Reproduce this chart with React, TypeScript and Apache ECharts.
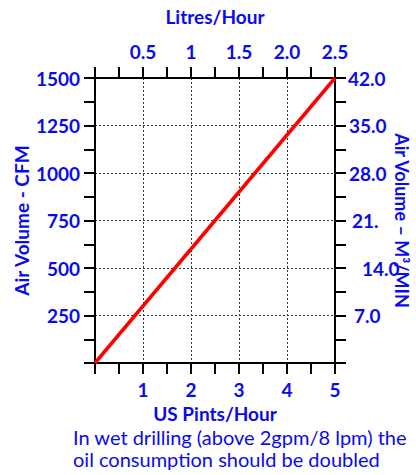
import React, { useEffect, useRef } from "react";
import * as echarts from "echarts";

const pintsPerHour = [0, 5];
const cfm = [0, 1500];
const bottomTicks = ["", "1", "2", "3", "4", "5"];
const topTicks = ["", "0.5", "1", "1.5", "2.0", "2.5"];
const leftTicks = ["", "250", "500", "750", "1000", "1250", "1500"];
const rightTicks = ["", "7.0", "14.0", "21.", "28.0", "35.0", "42.0"];
const footer = ["In wet drilling (above 2gpm/8 lpm) the", "oil consumption should be doubled"];

const BLUE = "#0a0af0";
const FONT = "Lato";

export default function App() {
  const ref = useRef<HTMLDivElement>(null);
  useEffect(() => {
    const chart = echarts.init(ref.current!, null, { renderer: "svg" });
    const axisLine = { show: true, onZero: false, lineStyle: { color: "#000", width: 2 } };
    const axisTick = { show: true, inside: false, length: 11, lineStyle: { color: "#000", width: 2 } };
    const minorTick = { show: true, splitNumber: 2, length: 11, lineStyle: { color: "#000", width: 2 } };
    const split = { show: true, lineStyle: { color: "#333", type: [2, 2] as any, width: 1 } };
    const label = { color: BLUE, fontFamily: FONT, fontWeight: "bold" as const, fontSize: 19 };
    const nameStyle = { color: BLUE, fontFamily: FONT, fontWeight: "bold" as const, fontSize: 19 };
    const rightPad = [0, 6, 14, 4, 1, 1, 0];
    chart.setOption({
      animation: false,
      grid: { left: 95, right: 81, top: 78, bottom: 112, outerBoundsMode: "none", containLabel: false },
      xAxis: [
        {
          type: "value", position: "bottom", min: 0, max: 5, interval: 1,
          axisLine, axisTick, minorTick, splitLine: split,
          axisLabel: { ...label, margin: 17, formatter: (v: number) => bottomTicks[Math.round(v)] ?? "" },
          name: "US Pints/Hour", nameLocation: "middle", nameGap: 41, nameMoveOverlap: false, nameTextStyle: nameStyle,
        },
        {
          type: "value", position: "top", min: 0, max: 2.5, interval: 0.5,
          axisLine, axisTick, minorTick, splitLine: { show: false },
          axisLabel: { ...label, margin: 17, formatter: (v: number) => topTicks[Math.round(v * 2)] ?? "" },
          name: "Litres/Hour", nameLocation: "middle", nameGap: 52, nameMoveOverlap: false, nameTextStyle: nameStyle,
        },
      ],
      yAxis: [
        {
          type: "value", position: "left", min: 0, max: 1500, interval: 250,
          axisLine, axisTick, minorTick, splitLine: split,
          axisLabel: { ...label, margin: 15, formatter: (v: number) => leftTicks[Math.round(v / 250)] ?? "" },
          name: "Air Volume - CFM", nameLocation: "middle", nameGap: 64, nameMoveOverlap: false, nameTextStyle: nameStyle,
        },
        {
          type: "value", position: "right", min: 0, max: 42, interval: 7,
          axisLine, axisTick, minorTick, splitLine: { show: false },
          axisLabel: {
            ...label, margin: 13,
            formatter: (v: number) => {
              const i = Math.round(v / 7);
              const t = rightTicks[i] ?? "";
              return t ? `{p${i}|${t}}` : "";
            },
            rich: Object.fromEntries(rightPad.map((p, i) => [`p${i}`, { ...label, padding: [0, 0, 0, p] }])),
          },
          name: "Air Volume – M³/MIN", nameLocation: "middle", nameGap: 58, nameRotate: -90, nameMoveOverlap: false,
          nameTextStyle: { ...nameStyle, fontSize: 18 },
        },
      ],
      series: [
        {
          type: "line", xAxisIndex: 0, yAxisIndex: 0, symbol: "none",
          lineStyle: { color: "#ff0000", width: 3.5 },
          data: pintsPerHour.map((x, i) => [x, cfm[i]]),
        },
      ],
      graphic: [
        {
          type: "text", left: 73, top: 426,
          style: { text: footer.join("\n"), fill: BLUE, font: `20px ${FONT}`, lineHeight: 22 },
        },
      ],
    });
    return () => chart.dispose();
  }, []);
  return <div ref={ref} style={{ width: 416, height: 475, position: "absolute", left: 0, top: 0 }} />;
}
